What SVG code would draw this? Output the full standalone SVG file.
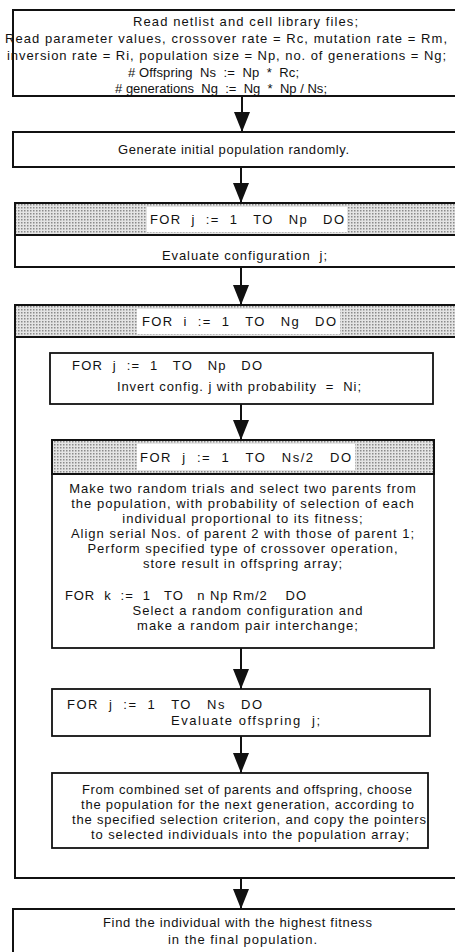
<svg xmlns="http://www.w3.org/2000/svg" width="455" height="952" viewBox="0 0 455 952">
<defs>
<pattern id="ht" width="3" height="3" patternUnits="userSpaceOnUse"><rect width="3" height="3" fill="#e4e4e4"/><rect width="1.5" height="1.5" fill="#8a8a8a"/></pattern>
<marker id="ah" markerUnits="userSpaceOnUse" markerWidth="20" markerHeight="18" refX="20" refY="8" orient="auto"><path d="M0,0 L20,8 L0,16 Z" fill="#111"/></marker>
<style>
.box{fill:#fff;stroke:#111;stroke-width:2}
.ib{fill:#fff;stroke:#111;stroke-width:1.8}
.hd{fill:url(#ht);stroke:#111;stroke-width:2}
.lb{fill:#fff}
text{font-family:"Liberation Sans",Arial,sans-serif;font-size:13px;fill:#111;white-space:pre;letter-spacing:1px}
.m{text-anchor:middle}
.c{stroke:#111;stroke-width:2;fill:none;marker-end:url(#ah)}
</style>
</defs>
<rect width="455" height="952" fill="#fff"/>
<g id="n-read">
<rect class="box" x="13" y="10" width="450" height="86"/>
<text class="m" x="246" y="26" textLength="226">Read netlist and cell library files;</text>
<text x="5" y="43" textLength="443">Read parameter values, crossover rate = Rc, mutation rate = Rm,</text>
<text x="7" y="60" textLength="440">inversion rate = Ri, population size = Np, no. of generations = Ng;</text>
<text x="128" y="77" textLength="172"># Offspring  Ns  :=  Np  *  Rc;</text>
<text x="115" y="93" textLength="213"># generations  Ng  :=  Ng  *  Np / Ns;</text>
</g>
<g id="n-generate">
<rect class="box" x="13" y="132" width="450" height="35"/>
<text x="118" y="154" textLength="232">Generate initial population randomly.</text>
</g>
<g id="n-loop-eval">
<rect class="box" x="15" y="203" width="448" height="64"/>
<rect class="hd" x="15" y="203" width="448" height="32"/>
<rect class="lb" x="147" y="207" width="200" height="25"/>
<text x="150" y="224" textLength="195">FOR  j  :=  1   TO   Np   DO</text>
<text x="162" y="260" textLength="166">Evaluate configuration  j;</text>
</g>
<g id="n-loop-gen">
<rect class="box" x="15" y="305" width="448" height="573"/>
<rect class="hd" x="15" y="305" width="448" height="32"/>
<rect class="lb" x="137" y="309" width="203" height="25"/>
<text x="142" y="326" textLength="195">FOR  i  :=  1   TO   Ng   DO</text>
</g>
<g id="n-invert">
<rect class="ib" x="50" y="353" width="383" height="51"/>
<text x="72" y="370" textLength="191">FOR  j  :=  1   TO   Np   DO</text>
<text x="117" y="391" textLength="245">Invert config. j with probability  =  Ni;</text>
</g>
<g id="n-crossover">
<rect class="ib" x="52" y="440" width="382" height="208"/>
<rect class="hd" x="52" y="440" width="382" height="34" stroke-width="1.8"/>
<rect class="lb" x="137" y="444" width="218" height="26"/>
<text x="140" y="462" textLength="212">FOR  j  :=  1   TO   Ns/2   DO</text>
<text class="m" x="243" y="493">Make two random trials and select two parents from</text>
<text class="m" x="243" y="508">the population, with probability of selection of each</text>
<text class="m" x="243" y="523">individual proportional to its fitness;</text>
<text class="m" x="243" y="538">Align serial Nos. of parent 2 with those of parent 1;</text>
<text class="m" x="243" y="553">Perform specified type of crossover operation,</text>
<text class="m" x="243" y="568">store result in offspring array;</text>
<text x="65" y="600" textLength="242">FOR  k  :=  1   TO   n Np Rm/2    DO</text>
<text class="m" x="248" y="615">Select a random configuration and</text>
<text class="m" x="248" y="630">make a random pair interchange;</text>
</g>
<g id="n-eval-off">
<rect class="ib" x="52" y="689" width="378" height="47"/>
<text x="67" y="709" textLength="196">FOR  j  :=  1   TO   Ns   DO</text>
<text x="171" y="725" textLength="150">Evaluate offspring  j;</text>
</g>
<g id="n-select">
<rect class="ib" x="52" y="773" width="376" height="75"/>
<text x="82" y="794" textLength="331">From combined set of parents and offspring, choose</text>
<text x="81" y="809" textLength="334">the population for the next generation, according to</text>
<text x="72" y="824" textLength="355">the specified selection criterion, and copy the pointers</text>
<text x="91" y="839" textLength="319">to selected individuals into the population array;</text>
</g>
<g id="n-final">
<rect class="box" x="13" y="909" width="450" height="60"/>
<text x="103" y="927" textLength="270">Find the individual with the highest fitness</text>
<text x="168" y="944" textLength="150">in the final population.</text>
</g>
<g id="connectors">
<line class="c" x1="242" y1="96" x2="242" y2="132"/>
<line class="c" x1="241" y1="167" x2="241" y2="203"/>
<line class="c" x1="241" y1="267" x2="241" y2="305"/>
<line class="c" x1="241" y1="404" x2="241" y2="440"/>
<line class="c" x1="241" y1="648" x2="241" y2="689"/>
<line class="c" x1="241" y1="736" x2="241" y2="773"/>
<line class="c" x1="241" y1="878" x2="241" y2="909"/>
</g>
</svg>
